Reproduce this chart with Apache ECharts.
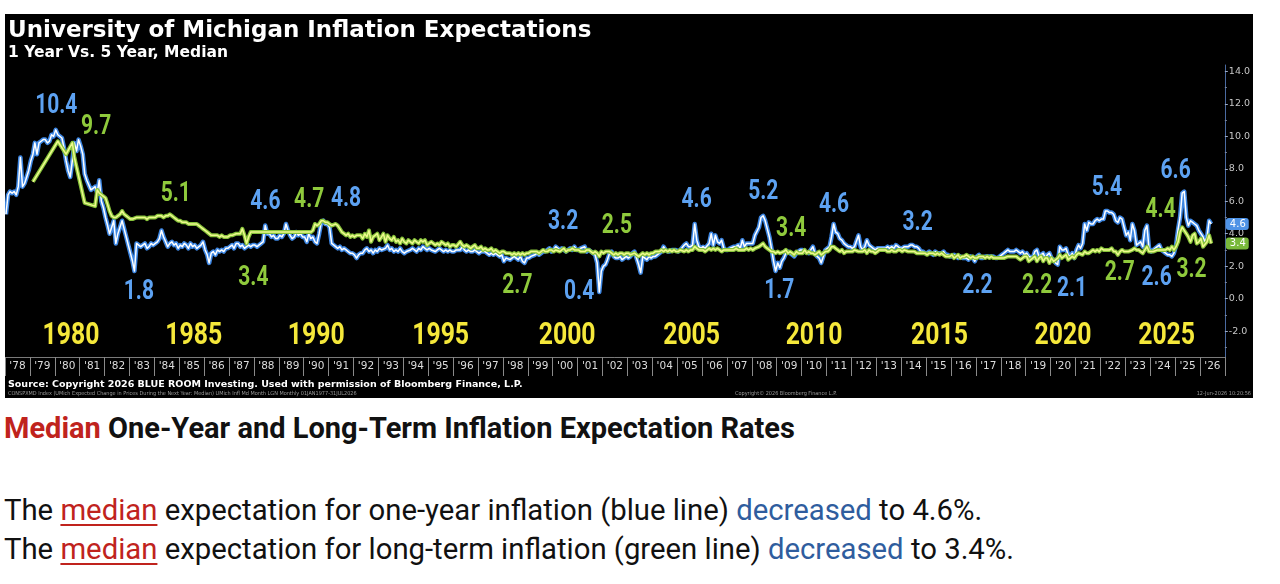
<!DOCTYPE html>
<html lang="en">
<head>
<meta charset="utf-8">
<title>University of Michigan Inflation Expectations</title>
<script src="https://cdn.jsdelivr.net/npm/echarts@6/dist/echarts.min.js"></script>
<style>
  html, body { margin: 0; padding: 0; background: #fff; }
  body { width: 1280px; height: 584px; position: relative; overflow: hidden; font-family: Roboto, "Noto Sans", sans-serif; }
  #chart { position: absolute; left: 5px; top: 14px; width: 1248px; height: 384px; background: #000; }
  .heading { position: absolute; left: 4px; top: 414px; font-size: 29px; line-height: 29px; font-weight: 700; color: #111; white-space: nowrap; }
  .red { color: #c0231d; }
  .notes { position: absolute; left: 4px; top: 491px; font-size: 29.3px; line-height: 39px; color: #111; white-space: nowrap; }
  .notes u { color: #c0231d; text-decoration-color: #c0231d; text-underline-offset: 4px; text-decoration-thickness: 2px; }
  .blue { color: #2f5d9e; }
</style>
</head>
<body>
<div id="chart"></div>
<div class="heading"><span class="red">Median</span> One-Year and Long-Term Inflation Expectation Rates</div>
<div class="notes">
  The <u>median</u> expectation for one-year inflation (blue line) <span class="blue">decreased</span> to 4.6%.<br>
  The <u>median</u> expectation for long-term inflation (green line) <span class="blue">decreased</span> to 3.4%.
</div>

<script>
// ---- data: monthly medians ----
// 1-year expectation (blue)
const blue1978_1989 = [
  5.2, 6.4, 6.6, 6.5, 6.6, 6.4, 6.9, 8.7, 6.9, 7.1, 7.5, 7.9,   // 1978
  8.5, 8.9, 9.6, 8.9, 9.6, 9.7, 9.8, 9.8, 9.6, 9.7, 10.1, 10.0, // 1979
  10.4, 10.1, 10.2, 9.9, 9.3, 8.5, 7.9, 7.5, 8.5, 9.6, 9.1, 9.8, // 1980
  9.4, 8.9, 7.7, 7.3, 7.0, 6.7, 6.8, 6.9, 6.5, 7.3, 6.0, 5.6,   // 1981
  5.0, 4.5, 4.0, 4.4, 4.8, 3.4, 4.0, 4.4, 4.8, 4.3, 3.8, 3.3,   // 1982
  2.8, 2.3, 1.7, 3.4, 3.3, 3.2, 3.3, 3.4, 3.1, 3.2, 3.4, 3.3,   // 1983
  3.4, 3.5, 3.7, 4.2, 3.8, 3.5, 3.2, 3.4, 3.5, 3.3, 3.4, 3.1,   // 1984
  3.3, 3.2, 3.4, 3.3, 3.1, 3.4, 3.2, 3.3, 3.1, 3.2, 3.3, 3.5,   // 1985
  3.0, 2.7, 2.2, 2.8, 2.9, 2.7, 3.0, 2.9, 3.0, 2.9, 3.1, 3.1,   // 1986
  3.2, 3.3, 3.1, 3.4, 3.4, 3.2, 3.3, 3.1, 3.2, 3.3, 3.2, 3.3,   // 1987
  3.3, 3.2, 3.3, 3.4, 3.5, 4.5, 4.0, 4.0, 3.8, 3.9, 3.7, 3.7,   // 1988
  3.9, 3.8, 4.0, 4.6, 4.2, 3.9, 3.7, 3.8, 4.1, 3.9, 4.0, 3.8    // 1989
];
const blue1990_1999 = [
  3.8, 3.5, 4.0, 3.7, 3.8, 3.5, 3.4, 4.0, 4.7, 4.8, 4.6, 4.6,   // 1990
  4.4, 3.4, 3.3, 3.2, 3.1, 3.2, 3.0, 3.1, 3.0, 2.9, 2.8, 2.8,   // 1991
  2.7, 2.5, 2.7, 2.8, 2.8, 3.0, 3.1, 2.9, 3.0, 2.8, 3.0, 2.9,   // 1992
  3.1, 3.0, 2.9, 3.1, 3.3, 3.0, 3.1, 2.9, 3.0, 2.9, 3.1, 2.9,   // 1993
  2.8, 2.9, 2.8, 3.0, 3.1, 3.0, 2.9, 3.1, 3.0, 3.2, 3.1, 3.0,   // 1994
  3.1, 3.0, 3.0, 2.9, 3.0, 3.1, 3.0, 2.9, 3.0, 2.9, 3.0, 2.9,   // 1995
  2.9, 3.0, 3.1, 3.0, 3.2, 3.0, 2.9, 3.0, 2.9, 2.9, 3.0, 2.9,   // 1996
  2.8, 2.9, 2.8, 2.9, 2.8, 2.7, 2.8, 2.7, 2.8, 2.7, 2.6, 2.7,   // 1997
  2.3, 2.5, 2.6, 2.4, 2.5, 2.6, 2.5, 2.4, 2.6, 2.3, 2.2, 2.5,   // 1998
  2.5, 2.6, 2.5, 2.7, 2.8, 2.7, 2.8, 2.9, 2.9, 3.0, 3.1, 2.9    // 1999
];
const blue2000_2009 = [
  3.0, 3.2, 3.2, 3.0, 3.1, 3.0, 2.9, 3.0, 3.1, 3.0, 3.2, 3.0,   // 2000
  3.0, 3.1, 3.0, 3.2, 2.9, 3.0, 2.9, 2.8, 2.7, 2.2, 0.4, 1.7,   // 2001
  2.0, 2.1, 2.4, 2.8, 2.9, 2.6, 2.5, 2.5, 2.6, 2.4, 2.5, 2.6,   // 2002
  2.5, 2.6, 2.8, 2.9, 2.5, 2.1, 1.6, 2.6, 2.5, 2.4, 2.6, 2.5,   // 2003
  2.6, 2.6, 2.7, 2.8, 2.9, 3.2, 3.0, 2.9, 2.9, 3.0, 3.0, 3.0,   // 2004
  2.9, 3.0, 3.1, 3.3, 3.4, 3.2, 3.2, 3.3, 4.6, 3.6, 3.2, 3.1,   // 2005
  3.2, 3.1, 3.2, 3.4, 4.0, 3.3, 3.9, 3.5, 3.4, 3.6, 3.1, 3.0,   // 2006
  3.0, 3.1, 3.1, 3.2, 3.2, 3.3, 3.1, 3.6, 3.2, 3.4, 3.4, 3.4,   // 2007
  3.4, 3.9, 4.0, 4.4, 5.0, 5.1, 4.8, 4.3, 3.8, 3.1, 2.3, 1.7,   // 2008
  2.2, 1.9, 2.3, 2.5, 2.8, 2.9, 2.8, 2.7, 2.6, 2.8, 2.9, 3.0    // 2009
];
const blue2010_2019 = [
  3.0, 2.9, 2.9, 2.8, 3.0, 3.2, 2.8, 2.6, 2.5, 2.2, 2.6, 3.0,   // 2010
  3.1, 3.2, 3.8, 4.6, 4.1, 4.0, 3.7, 3.6, 3.4, 3.3, 3.2, 3.2,   // 2011
  3.1, 3.2, 3.3, 3.9, 3.2, 3.0, 3.2, 3.6, 3.3, 3.2, 3.1, 3.0,   // 2012
  3.1, 3.1, 3.2, 3.1, 3.1, 3.2, 3.1, 3.2, 3.1, 3.3, 3.2, 3.1,   // 2013
  3.1, 3.2, 3.3, 3.2, 3.3, 3.3, 3.2, 3.2, 3.1, 2.9, 2.9, 2.8,   // 2014
  2.8, 2.9, 2.9, 2.7, 2.9, 2.8, 2.8, 2.8, 2.9, 2.7, 2.7, 2.6,   // 2015
  2.6, 2.7, 2.6, 2.5, 2.6, 2.5, 2.5, 2.5, 2.4, 2.6, 2.5, 2.3,   // 2016
  2.6, 2.7, 2.5, 2.5, 2.6, 2.6, 2.6, 2.6, 2.6, 2.5, 2.5, 2.6,   // 2017
  2.7, 2.8, 2.9, 3.0, 2.9, 2.9, 2.9, 3.0, 2.9, 2.8, 2.9, 2.7,   // 2018
  2.8, 2.6, 2.7, 2.5, 2.9, 3.0, 2.6, 2.7, 2.8, 2.5, 2.7, 2.8    // 2019
];
const blue2020_2026 = [
  2.5, 2.4, 2.2, 2.1, 3.2, 3.0, 3.0, 3.1, 2.7, 2.6, 2.8, 2.5,   // 2020
  3.0, 3.3, 3.1, 3.4, 4.6, 4.2, 4.7, 4.6, 4.6, 4.8, 4.9, 4.8,   // 2021
  4.9, 4.9, 5.4, 5.4, 5.3, 5.3, 5.2, 4.8, 4.7, 5.0, 4.9, 4.4,   // 2022
  3.9, 4.1, 3.6, 4.6, 4.2, 3.3, 3.4, 3.5, 3.2, 4.2, 4.5, 3.1,   // 2023
  2.9, 3.0, 2.9, 3.2, 3.3, 3.0, 2.9, 2.8, 2.7, 2.7, 2.6, 2.8,   // 2024
  3.3, 4.3, 5.0, 6.5, 6.6, 5.0, 4.5, 4.8, 4.7, 4.6, 4.5, 4.2,   // 2025
  4.0, 3.8, 3.5, 3.8, 4.8, 4.6                                  // 2026
];

// 5-year / long-term expectation (green); early readings are sparse
const green1978_1989 = [
  null, null, null, null, null, null, null, null, null, null, null, null, // 1978
  null, 7.2, null, null, null, null, null, null, null, null, null, null,  // 1979
  null, 9.7, null, null, null, 8.9, null, null, 9.6, 8.7, null, null,     // 1980
  null, null, 5.9, null, null, null, null, 5.7, 6.7, 6.5, 6.4, 6.3,       // 1981
  6.2, 5.8, 5.4, 5.1, 5.0, 5.0, 5.1, 5.2, 5.4, 5.2, 5.1, 5.0,   // 1982
  4.9, 4.9, 5.0, 5.0, 5.0, 5.0, 5.0, 5.0, 4.9, 5.0, 5.0, 5.0,   // 1983
  5.0, 5.1, 5.1, 5.1, 5.0, 5.1, 5.1, 5.2, 5.1, 5.0, 4.9, 4.8,   // 1984
  4.8, 4.7, 4.7, 4.7, 4.6, 4.6, 4.6, 4.6, 4.6, 4.5, 4.4, 4.3,   // 1985
  4.2, 4.1, 4.0, 3.9, 3.9, 3.9, 3.9, 3.8, 3.9, 3.8, 3.8, 3.8,   // 1986
  3.9, 3.9, 3.9, 4.0, 4.0, 4.0, 4.3, 3.9, 3.4, 3.8, 4.1, 4.1,   // 1987
  4.1, 4.1, 4.1, 4.1, 4.1, 4.1, 4.1, 4.1, 4.1, 4.1, 4.1, 4.1,   // 1988
  4.1, 4.1, 4.1, 4.1, 4.1, 4.1, 4.1, 4.1, 4.1, 4.1, 4.1, 4.1    // 1989
];
const green1990_1999 = [
  4.1, 4.1, 4.1, 4.1, 4.2, 4.6, 4.5, 4.6, 4.8, 4.8, 4.7, 4.7,   // 1990
  4.6, 4.5, 4.5, 4.6, 4.5, 4.3, 4.1, 4.0, 3.9, 4.0, 3.8, 3.9,   // 1991
  3.8, 3.9, 3.8, 3.9, 3.7, 4.0, 3.8, 4.2, 3.5, 3.8, 3.9, 4.0,   // 1992
  3.6, 3.8, 4.0, 3.5, 3.9, 3.7, 3.6, 3.8, 3.5, 3.6, 3.4, 3.7,   // 1993
  3.5, 3.4, 3.6, 3.5, 3.4, 3.6, 3.5, 3.4, 3.6, 3.5, 3.6, 3.3,   // 1994
  3.4, 3.5, 3.6, 3.3, 3.4, 3.3, 3.5, 3.4, 3.3, 3.4, 3.2, 3.3,   // 1995
  3.3, 3.2, 3.3, 3.5, 3.3, 3.2, 3.3, 3.2, 3.1, 3.2, 3.3, 3.1,   // 1996
  3.1, 3.2, 3.0, 3.1, 3.0, 3.0, 3.1, 2.9, 3.0, 2.9, 2.8, 2.9,   // 1997
  2.9, 2.8, 2.9, 2.8, 2.7, 2.8, 2.7, 2.8, 2.7, 2.8, 2.7, 2.8,   // 1998
  2.8, 2.9, 2.8, 2.9, 2.9, 2.8, 2.9, 3.0, 2.9, 2.9, 3.0, 3.0    // 1999
];
const green2000_2009 = [
  2.9, 3.0, 3.0, 2.9, 3.0, 3.1, 2.9, 3.0, 3.0, 3.1, 3.0, 3.0,   // 2000
  3.0, 2.9, 3.0, 2.9, 3.0, 3.0, 2.9, 2.8, 2.9, 2.8, 2.6, 2.9,   // 2001
  2.8, 2.9, 2.8, 2.9, 2.8, 2.7, 2.8, 2.7, 2.8, 2.8, 2.7, 2.8,   // 2002
  2.8, 2.7, 2.8, 2.8, 2.7, 2.6, 2.7, 2.8, 2.7, 2.8, 2.7, 2.8,   // 2003
  2.8, 2.9, 2.8, 2.9, 3.0, 2.9, 3.0, 2.9, 3.0, 2.9, 3.0, 2.9,   // 2004
  2.9, 3.0, 3.0, 2.9, 3.0, 2.9, 3.0, 3.0, 3.2, 3.1, 3.0, 3.0,   // 2005
  3.0, 2.9, 3.0, 3.1, 3.0, 3.1, 3.0, 3.1, 3.0, 2.9, 3.0, 3.0,   // 2006
  3.0, 3.0, 2.9, 3.0, 3.1, 3.0, 3.0, 3.0, 3.0, 3.1, 3.0, 3.1,   // 2007
  3.0, 3.1, 3.2, 3.2, 3.3, 3.4, 3.2, 3.1, 3.0, 2.9, 2.9, 2.8,   // 2008
  2.9, 2.8, 2.8, 2.9, 3.0, 2.8, 2.9, 2.8, 2.7, 2.9, 2.8, 2.8    // 2009
];
const green2010_2019 = [
  2.8, 3.0, 2.8, 2.9, 2.8, 2.8, 2.7, 2.8, 2.9, 2.7, 2.8, 2.9,   // 2010
  2.9, 3.0, 3.2, 3.2, 3.1, 3.0, 2.9, 3.0, 2.8, 2.9, 2.9, 2.9,   // 2011
  2.9, 3.0, 3.0, 2.9, 2.9, 2.9, 3.0, 2.8, 3.0, 2.9, 2.9, 2.8,   // 2012
  2.9, 3.0, 2.9, 3.0, 3.0, 2.9, 2.9, 3.0, 2.9, 2.9, 3.0, 3.0,   // 2013
  2.9, 3.0, 3.0, 2.9, 2.9, 2.9, 2.9, 2.8, 2.8, 2.8, 2.8, 2.8,   // 2014
  2.7, 2.8, 2.8, 2.8, 2.7, 2.8, 2.7, 2.8, 2.7, 2.6, 2.6, 2.6,   // 2015
  2.7, 2.5, 2.6, 2.7, 2.5, 2.6, 2.6, 2.7, 2.6, 2.5, 2.6, 2.5,   // 2016
  2.5, 2.6, 2.5, 2.6, 2.5, 2.6, 2.5, 2.6, 2.5, 2.5, 2.5, 2.5,   // 2017
  2.5, 2.5, 2.5, 2.6, 2.6, 2.6, 2.6, 2.6, 2.5, 2.4, 2.5, 2.6,   // 2018
  2.6, 2.3, 2.4, 2.5, 2.6, 2.3, 2.5, 2.6, 2.3, 2.5, 2.5, 2.2    // 2019
];
const green2020_2026 = [
  2.5, 2.3, 2.3, 2.5, 2.7, 2.5, 2.6, 2.7, 2.4, 2.5, 2.6, 2.5,   // 2020
  2.7, 2.8, 2.8, 2.7, 2.9, 2.8, 2.8, 2.9, 3.0, 2.9, 3.0, 2.9,   // 2021
  3.1, 3.0, 3.0, 3.0, 3.0, 3.1, 2.9, 2.9, 2.7, 2.9, 3.0, 2.9,   // 2022
  2.9, 2.9, 2.9, 3.0, 3.1, 3.0, 3.0, 2.9, 2.8, 3.0, 3.2, 2.9,   // 2023
  2.9, 2.9, 2.8, 3.0, 3.0, 3.0, 3.0, 3.0, 3.1, 3.0, 3.2, 3.0,   // 2024
  3.2, 3.5, 4.1, 4.4, 4.2, 4.0, 3.8, 3.5, 3.9, 4.0, 3.4, 3.5,   // 2025
  3.7, 3.2, 3.3, 3.5, 3.9, 3.4                                  // 2026
];

// bottom band year labels
const yearTicks = ["'78", "'79", "'80", "'81", "'82", "'83", "'84", "'85", "'86", "'87",
  "'88", "'89", "'90", "'91", "'92", "'93", "'94", "'95", "'96", "'97", "'98", "'99",
  "'00", "'01", "'02", "'03", "'04", "'05", "'06", "'07", "'08", "'09", "'10", "'11",
  "'12", "'13", "'14", "'15", "'16", "'17", "'18", "'19", "'20", "'21", "'22", "'23",
  "'24", "'25", "'26"];
const yLabelValues = [-2, 0, 2, 4, 6, 8, 10, 12, 14];
const yMinorValues = [-3, -1, 1, 3, 5, 7, 9, 11, 13];

// callouts: [decimal year, value, text]
const blueCallouts = [
  [1980.06, 11.9, '10.4'], [1983.38, 0.4, '1.8'], [1988.46, 5.95, '4.6'], [1991.7, 6.15, '4.8'],
  [2000.42, 4.7, '3.2'], [2001.06, 0.4, '0.4'], [2005.78, 6.1, '4.6'], [2008.46, 6.6, '5.2'],
  [2009.1, 0.45, '1.7'], [2011.3, 5.75, '4.6'], [2014.66, 4.65, '3.2'], [2017.06, 0.8, '2.2'],
  [2020.86, 0.6, '2.1'], [2022.26, 6.8, '5.4'], [2024.26, 1.25, '2.6'], [2025.02, 7.85, '6.6']
];
const greenCallouts = [
  [1981.66, 10.6, '9.7'], [1984.86, 6.45, '5.1'], [1987.98, 1.3, '3.4'], [1990.22, 6.05, '4.7'],
  [1998.58, 0.8, '2.7'], [2002.58, 4.5, '2.5'], [2009.58, 4.3, '3.4'], [2019.46, 0.8, '2.2'],
  [2022.78, 1.55, '2.7'], [2024.42, 5.45, '4.4'], [2025.66, 1.75, '3.2']
];
const yearCallouts = [
  [1980.65, -2.35, '1980'], [1985.58, -2.35, '1985'], [1990.5, -2.35, '1990'], [1995.5, -2.35, '1995'],
  [2000.58, -2.35, '2000'], [2005.58, -2.35, '2005'], [2010.5, -2.35, '2010'], [2015.54, -2.35, '2015'],
  [2020.5, -2.35, '2020'], [2024.66, -2.35, '2025']
];

// ---- helpers ----
function monthly(values, firstYear) {
  return values.map((v, i) => [Date.UTC(firstYear + Math.floor(i / 12), i % 12, 15), v]);
}
function fromYear(y) {
  const y0 = Math.floor(y);
  const a = Date.UTC(y0, 0, 1), b = Date.UTC(y0 + 1, 0, 1);
  return a + (y - y0) * (b - a);
}

const blueData = [].concat(
  monthly(blue1978_1989, 1978), monthly(blue1990_1999, 1990), monthly(blue2000_2009, 2000),
  monthly(blue2010_2019, 2010), monthly(blue2020_2026, 2020));
const greenData = [].concat(
  monthly(green1978_1989, 1978), monthly(green1990_1999, 1990), monthly(green2000_2009, 2000),
  monthly(green2010_2019, 2010), monthly(green2020_2026, 2020));
const lastBlue = blue2020_2026[blue2020_2026.length - 1];
const lastGreen = green2020_2026[green2020_2026.length - 1];

const BLOOM = '"DejaVu Sans", Verdana, sans-serif';
const BLUE_TXT = '#5da2f2';
const GREEN_TXT = '#8fca3c';
const YELLOW_TXT = '#f5e83a';

// big condensed call-out numbers, placed through the chart's own axes
function callouts(list, color, size, squeeze) {
  return {
    type: 'custom', xAxisIndex: 0, yAxisIndex: 0, silent: true, z: 5, clip: false,
    data: list.map(d => [fromYear(d[0]), d[1]]),
    renderItem: function (params, api) {
      const p = api.coord([api.value(0), api.value(1)]);
      return {
        type: 'text', x: p[0], y: p[1], scaleX: squeeze,
        style: {
          text: list[params.dataIndex][2], fill: color,
          font: 'bold ' + size + 'px Roboto, "Noto Sans", sans-serif',
          align: 'center', verticalAlign: 'middle'
        }
      };
    }
  };
}

function lineLayer(data, color, width, z, extra) {
  return Object.assign({
    type: 'line', xAxisIndex: 0, yAxisIndex: 0, data: data, showSymbol: false,
    connectNulls: true, silent: true, z: z,
    lineStyle: { color: color, width: width, join: 'round' }
  }, extra || {});
}

function lastTag(value, bg) {
  return {
    silent: true, symbol: 'none',
    lineStyle: { width: 0, color: 'rgba(0,0,0,0)' },
    label: {
      position: 'end', distance: 1, formatter: p => p.value.toFixed(1),
      backgroundColor: bg, color: '#ffffff', fontSize: 10, fontFamily: BLOOM,
      padding: [1, 3, 1, 4], borderRadius: 3
    },
    data: [{ yAxis: value }]
  };
}

const chart = echarts.init(document.getElementById('chart'));
chart.setOption({
  animation: false,
  backgroundColor: '#000',
  grid: { left: 0, right: 22, top: 51, bottom: 41 },
  xAxis: [
    { type: 'time', min: Date.UTC(1978, 0, 1), max: Date.UTC(2027, 0, 1), show: false },
    {
      type: 'category', data: yearTicks, boundaryGap: true, position: 'bottom',
      axisLine: { onZero: false, lineStyle: { color: '#7a7a7a', width: 1 } },
      axisTick: { show: true, interval: 0, length: 19, lineStyle: { color: '#8a8a8a', width: 1 } },
      axisLabel: { interval: 0, color: '#dcdcdc', fontSize: 10.5, margin: 4, fontFamily: BLOOM },
      splitLine: { show: false }
    }
  ],
  yAxis: [
    {
      type: 'value', min: -3.6, max: 14.4, position: 'right',
      splitLine: { show: false },
      axisLine: { show: true, lineStyle: { color: '#4a6aa0' } },
      axisTick: { show: true, customValues: yLabelValues, length: 3, lineStyle: { color: '#9aa8c4' } },
      axisLabel: {
        customValues: yLabelValues, formatter: v => v.toFixed(1),
        color: '#c6c6c6', fontSize: 9.5, margin: 4, fontFamily: BLOOM
      }
    },
    {
      type: 'value', min: -3.6, max: 14.4, position: 'right',
      splitLine: { show: false }, axisLine: { show: false },
      axisTick: { show: true, customValues: yMinorValues, length: 2, lineStyle: { color: '#7d8aa6' } },
      axisLabel: { show: false }
    }
  ],
  graphic: [
    { type: 'text', left: 3, top: 6, style: { text: 'University of Michigan Inflation Expectations', fill: '#ffffff', font: 'bold 23px "DejaVu Sans", sans-serif' } },
    { type: 'text', left: 3, top: 31, style: { text: '1 Year Vs. 5 Year, Median', fill: '#ffffff', font: 'bold 15.5px "DejaVu Sans", sans-serif' } },
    { type: 'text', left: 3, top: 366, style: { text: 'Source: Copyright 2026 BLUE ROOM Investing. Used with permission of Bloomberg Finance, L.P.', fill: '#ffffff', font: 'bold 9.5px "DejaVu Sans", sans-serif' } },
    { type: 'text', left: 3, top: 377, style: { text: 'CONSPXMD Index (UMich Expected Change in Prices During the Next Year: Median) UMich Infl Md Month LGN Monthly 01JAN1977-31JUL2026', fill: '#9a9a9a', font: '5.5px "DejaVu Sans Condensed", "DejaVu Sans", sans-serif' } },
    { type: 'text', left: 730, top: 377, style: { text: 'Copyright\u00a9 2026 Bloomberg Finance L.P.', fill: '#9a9a9a', font: '5.5px "DejaVu Sans Condensed", "DejaVu Sans", sans-serif' } },
    { type: 'text', right: 2, top: 377, style: { text: '12-Jun-2026 10:20:56', fill: '#9a9a9a', font: '5.5px "DejaVu Sans Condensed", "DejaVu Sans", sans-serif' } }
  ],
  series: [
    lineLayer(blueData, '#3d86e2', 4.5, 2),
    lineLayer(blueData, '#ffffff', 1.5, 3, { markLine: lastTag(lastBlue, '#4f93e6') }),
    lineLayer(greenData, '#86c23a', 4, 3),
    lineLayer(greenData, '#eef98e', 1.5, 4, { markLine: lastTag(lastGreen, '#79b93a') }),
    callouts(blueCallouts, BLUE_TXT, 28, 0.75),
    callouts(greenCallouts, GREEN_TXT, 28, 0.75),
    callouts(yearCallouts, YELLOW_TXT, 31, 0.8)
  ]
});
</script>
</body>
</html>
